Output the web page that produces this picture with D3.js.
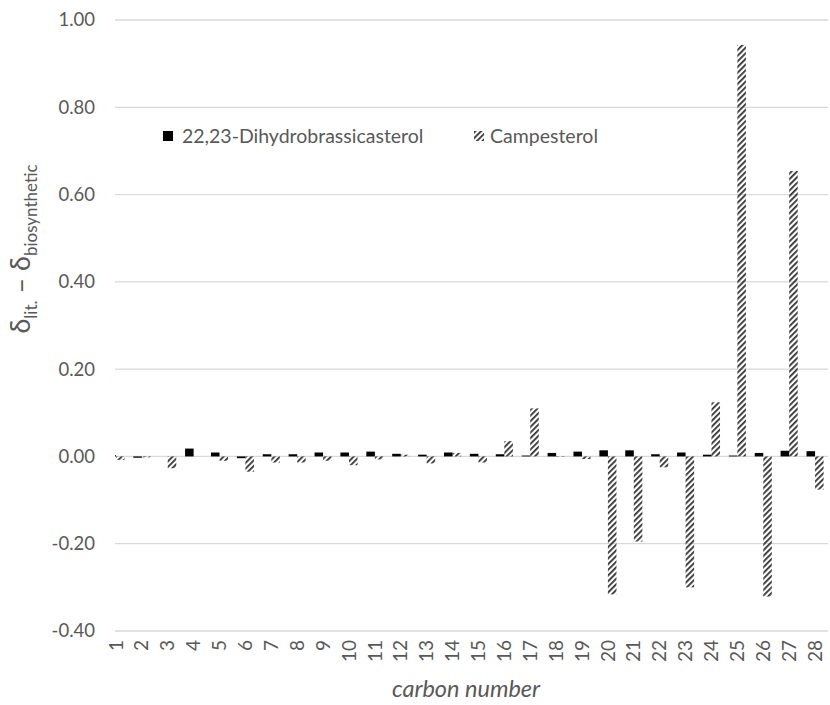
<!DOCTYPE html>
<html><head><meta charset="utf-8">
<script src="https://cdn.jsdelivr.net/npm/d3@7"></script>
<style>body{margin:0;background:#fff}svg{display:block}</style>
</head><body>
<script>
const categories = d3.range(1, 29).map(String);
const dihydro = [0.003,-0.003,0.000,0.018,0.009,-0.004,0.005,0.005,0.009,0.009,0.011,0.006,0.004,0.009,0.006,0.005,0.002,0.008,0.011,0.014,0.014,0.005,0.009,0.004,0.002,0.008,0.013,0.012];
const campesterol = [-0.008,-0.002,-0.027,0.000,-0.010,-0.035,-0.014,-0.014,-0.010,-0.020,-0.007,0.004,-0.016,0.008,-0.014,0.035,0.110,0.001,-0.006,-0.316,-0.195,-0.025,-0.300,0.124,0.943,-0.321,0.654,-0.076];
const yTicks = [-0.4,-0.2,0,0.2,0.4,0.6,0.8,1.0];
const seriesNames = ["22,23-Dihydrobrassicasterol","Campesterol"];

const W = 830, H = 705;
const svg = d3.select("body").append("svg").attr("width", W).attr("height", H);
const font = "Lato, 'Open Sans', sans-serif";
const txt = "#595959";

const defs = svg.append("defs");
defs.append("pattern").attr("id","hatch").attr("patternUnits","userSpaceOnUse")
  .attr("width",4).attr("height",4).attr("patternTransform","rotate(45)")
  .append("rect").attr("x",0).attr("y",0).attr("width",1.8).attr("height",4).attr("fill","#333");
defs.append("clipPath").attr("id","clip").append("rect").attr("x",115).attr("y",0).attr("width",W-115).attr("height",H);

const x = d3.scaleBand().domain(categories).range([103, 828]);
const y = d3.scaleLinear().domain([-0.4, 1.0]).range([631, 20]);
const bw = x.bandwidth() * 0.33;

// gridlines
svg.append("g").selectAll("line").data(yTicks).join("line")
  .attr("x1", 115).attr("x2", 828)
  .attr("y1", d => y(d)).attr("y2", d => y(d))
  .attr("stroke", "#d9d9d9").attr("stroke-width", 1.3);

// y tick labels
const fmt = d3.format(".2f");
svg.append("g").selectAll("text").data(yTicks).join("text")
  .attr("x", 95).attr("y", d => y(d)).attr("dy","0.35em")
  .attr("text-anchor","end").attr("font-family",font).attr("font-size",18.5).attr("fill",txt)
  .text(d => fmt(d).replace("\u2212","-"));

const bars = svg.append("g").attr("clip-path","url(#clip)");
bars.selectAll("rect.a").data(dihydro).join("rect").attr("class","a")
  .attr("x", (d,i) => x(categories[i]) + x.bandwidth()/2 - bw)
  .attr("width", bw)
  .attr("y", d => y(Math.max(0,d)))
  .attr("height", d => Math.abs(y(d) - y(0)))
  .attr("fill", "#000");
bars.selectAll("rect.b").data(campesterol).join("rect").attr("class","b")
  .attr("x", (d,i) => x(categories[i]) + x.bandwidth()/2)
  .attr("width", bw)
  .attr("y", d => y(Math.max(0,d)))
  .attr("height", d => Math.abs(y(d) - y(0)))
  .attr("fill", "url(#hatch)");

// x tick labels (rotated)
svg.append("g").selectAll("text").data(categories).join("text")
  .attr("transform", d => `translate(${x(d)+x.bandwidth()/2},640) rotate(-90)`)
  .attr("dy","0.35em").attr("text-anchor","end")
  .attr("font-family",font).attr("font-size",19).attr("fill",txt)
  .text(d => d);

// x title
svg.append("text").attr("x", 466).attr("y", 697).attr("text-anchor","middle")
  .attr("font-family",font).attr("font-style","italic").attr("font-size",23.5).attr("fill",txt)
  .text("carbon number");

// y title
const yt = svg.append("text").attr("transform","translate(30,249) rotate(-90)")
  .attr("text-anchor","middle").attr("font-family",font).attr("fill",txt);
yt.append("tspan").attr("font-size",27).text("δ");
yt.append("tspan").attr("font-size",17).attr("dy",7).text("lit.");
yt.append("tspan").attr("font-size",27).attr("dy",-7).text(" – δ");
yt.append("tspan").attr("font-size",17).attr("dy",7).text("biosynthetic");

// legend
const lg = svg.append("g");
lg.append("rect").attr("x",163).attr("y",131).attr("width",10).attr("height",10).attr("fill","#000");
lg.append("text").attr("x",182).attr("y",136).attr("dy","0.35em").attr("font-family",font).attr("font-size",19.5).attr("fill",txt).text(seriesNames[0]);
lg.append("rect").attr("x",474).attr("y",131).attr("width",10).attr("height",10).attr("fill","url(#hatch)");
lg.append("text").attr("x",490).attr("y",136).attr("dy","0.35em").attr("font-family",font).attr("font-size",19.5).attr("fill",txt).text(seriesNames[1]);
</script>
</body></html>
